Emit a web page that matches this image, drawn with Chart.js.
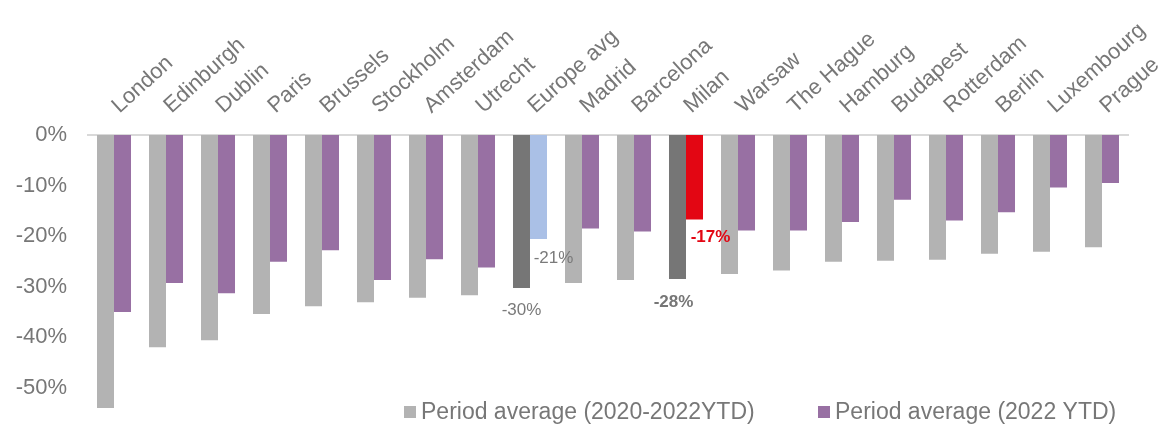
<!DOCTYPE html>
<html>
<head>
<meta charset="utf-8">
<script src="https://cdn.jsdelivr.net/npm/chart.js@4.4.0/dist/chart.umd.min.js"></script>
<style>
  html, body { margin: 0; padding: 0; background: #fff; }
  #wrap { width: 1160px; height: 428px; }
</style>
</head>
<body>
<div id="wrap"><canvas id="myChart"></canvas></div>
<script>
// Chart data (values in %)
const cities = ["London", "Edinburgh", "Dublin", "Paris", "Brussels", "Stockholm", "Amsterdam", "Utrecht",
  "Europe avg", "Madrid", "Barcelona", "Milan", "Warsaw", "The Hague", "Hamburg", "Budapest",
  "Rotterdam", "Berlin", "Luxembourg", "Prague"];
const periodAvg = [-54.0, -42.0, -40.6, -35.4, -33.9, -33.1, -32.2, -31.7,
  -30.3, -29.3, -28.7, -28.5, -27.5, -26.8, -25.1, -24.9, -24.7, -23.5, -23.1, -22.2];
const ytdAvg = [-35.0, -29.3, -31.3, -25.1, -22.8, -28.7, -24.6, -26.2,
  -20.6, -18.5, -19.1, -16.7, -18.9, -18.9, -17.2, -12.8, -16.9, -15.3, -10.4, -9.5];
const yTicks = [0, -10, -20, -30, -40, -50];
const seriesNames = ["Period average (2020-2022YTD)", "Period average (2022 YTD)"];

const FONT = "'Liberation Sans', Arial, sans-serif";
const TEXT = "#777777";

// highlight colours for the average and Milan
const periodColors = cities.map(c => (c === "Europe avg" || c === "Milan") ? "#767676" : "#b3b3b3");
const ytdColors = cities.map(c => c === "Europe avg" ? "#aac0e6" : (c === "Milan" ? "#e30613" : "#9870a3"));

// which bars get a value label
const valueLabels = [
  { ds: 0, city: "Europe avg", color: "#7a7a7a", bold: false, dx: 0, dy: 22 },
  { ds: 1, city: "Europe avg", color: "#7a7a7a", bold: false, dx: 15, dy: 19 },
  { ds: 0, city: "Milan", color: "#767676", bold: true, dx: -4, dy: 23 },
  { ds: 1, city: "Milan", color: "#e30613", bold: true, dx: 16, dy: 18 }
];

const valueLabelPlugin = {
  id: 'valueLabels',
  afterDatasetsDraw(chart) {
    const c = chart.ctx;
    c.save();
    c.textAlign = 'center';
    c.textBaseline = 'middle';
    valueLabels.forEach(l => {
      const i = cities.indexOf(l.city);
      const bar = chart.getDatasetMeta(l.ds).data[i];
      const v = chart.data.datasets[l.ds].data[i];
      c.font = (l.bold ? 'bold ' : '') + '17px ' + FONT;
      c.fillStyle = l.color;
      c.fillText(Math.round(v) + '%', bar.x + l.dx, bar.y + l.dy);
    });
    c.restore();
  }
};

// legend drawn inside the plot area, bottom right
const legendPlugin = {
  id: 'innerLegend',
  afterDraw(chart) {
    const c = chart.ctx;
    const starts = [404, 818];
    const y = 412;
    c.save();
    c.font = '23px ' + FONT;
    c.textBaseline = 'middle';
    c.textAlign = 'left';
    chart.data.datasets.forEach((ds, k) => {
      c.fillStyle = k === 0 ? '#b3b3b3' : '#9870a3';
      c.fillRect(starts[k], y - 6, 12, 12);
      c.fillStyle = TEXT;
      c.fillText(ds.label, starts[k] + 17, y + 1);
    });
    c.restore();
  }
};

const ctx = document.getElementById('myChart');
const myChart = new Chart(ctx, {
  type: 'bar',
  data: {
    labels: cities,
    datasets: [
      { label: seriesNames[0], data: periodAvg, backgroundColor: periodColors },
      { label: seriesNames[1], data: ytdAvg, backgroundColor: ytdColors }
    ]
  },
  options: {
    responsive: true,
    maintainAspectRatio: false,
    animation: false,
    layout: { padding: { left: 0, right: 32, top: 0, bottom: 10 } },
    datasets: { bar: { categoryPercentage: 0.654, barPercentage: 1.0 } },
    plugins: {
      legend: { display: false },
      tooltip: { enabled: false }
    },
    scales: {
      x: {
        position: 'top',
        grid: { display: false, drawTicks: false },
        border: { display: true, color: '#d9d9d9', width: 2 },
        ticks: {
          autoSkip: false,
          minRotation: 42,
          maxRotation: 42,
          padding: 16,
          labelOffset: 19,
          color: TEXT,
          font: { family: FONT, size: 22 }
        },
        afterFit(scale) {
          scale.height = 135;
          scale.paddingLeft = 0;
          scale.paddingRight = 0;
        }
      },
      y: {
        min: -56,
        max: 0,
        grid: { display: false, drawTicks: false },
        border: { display: false },
        afterBuildTicks(scale) {
          scale.ticks = yTicks.map(v => ({ value: v }));
        },
        ticks: {
          padding: 21,
          color: TEXT,
          font: { family: FONT, size: 22 },
          callback: v => v + '%'
        },
        afterFit(scale) {
          scale.width = 88;
          scale.paddingTop = 0;
          scale.paddingBottom = 0;
        }
      }
    }
  },
  plugins: [valueLabelPlugin, legendPlugin]
});
</script>
</body>
</html>
